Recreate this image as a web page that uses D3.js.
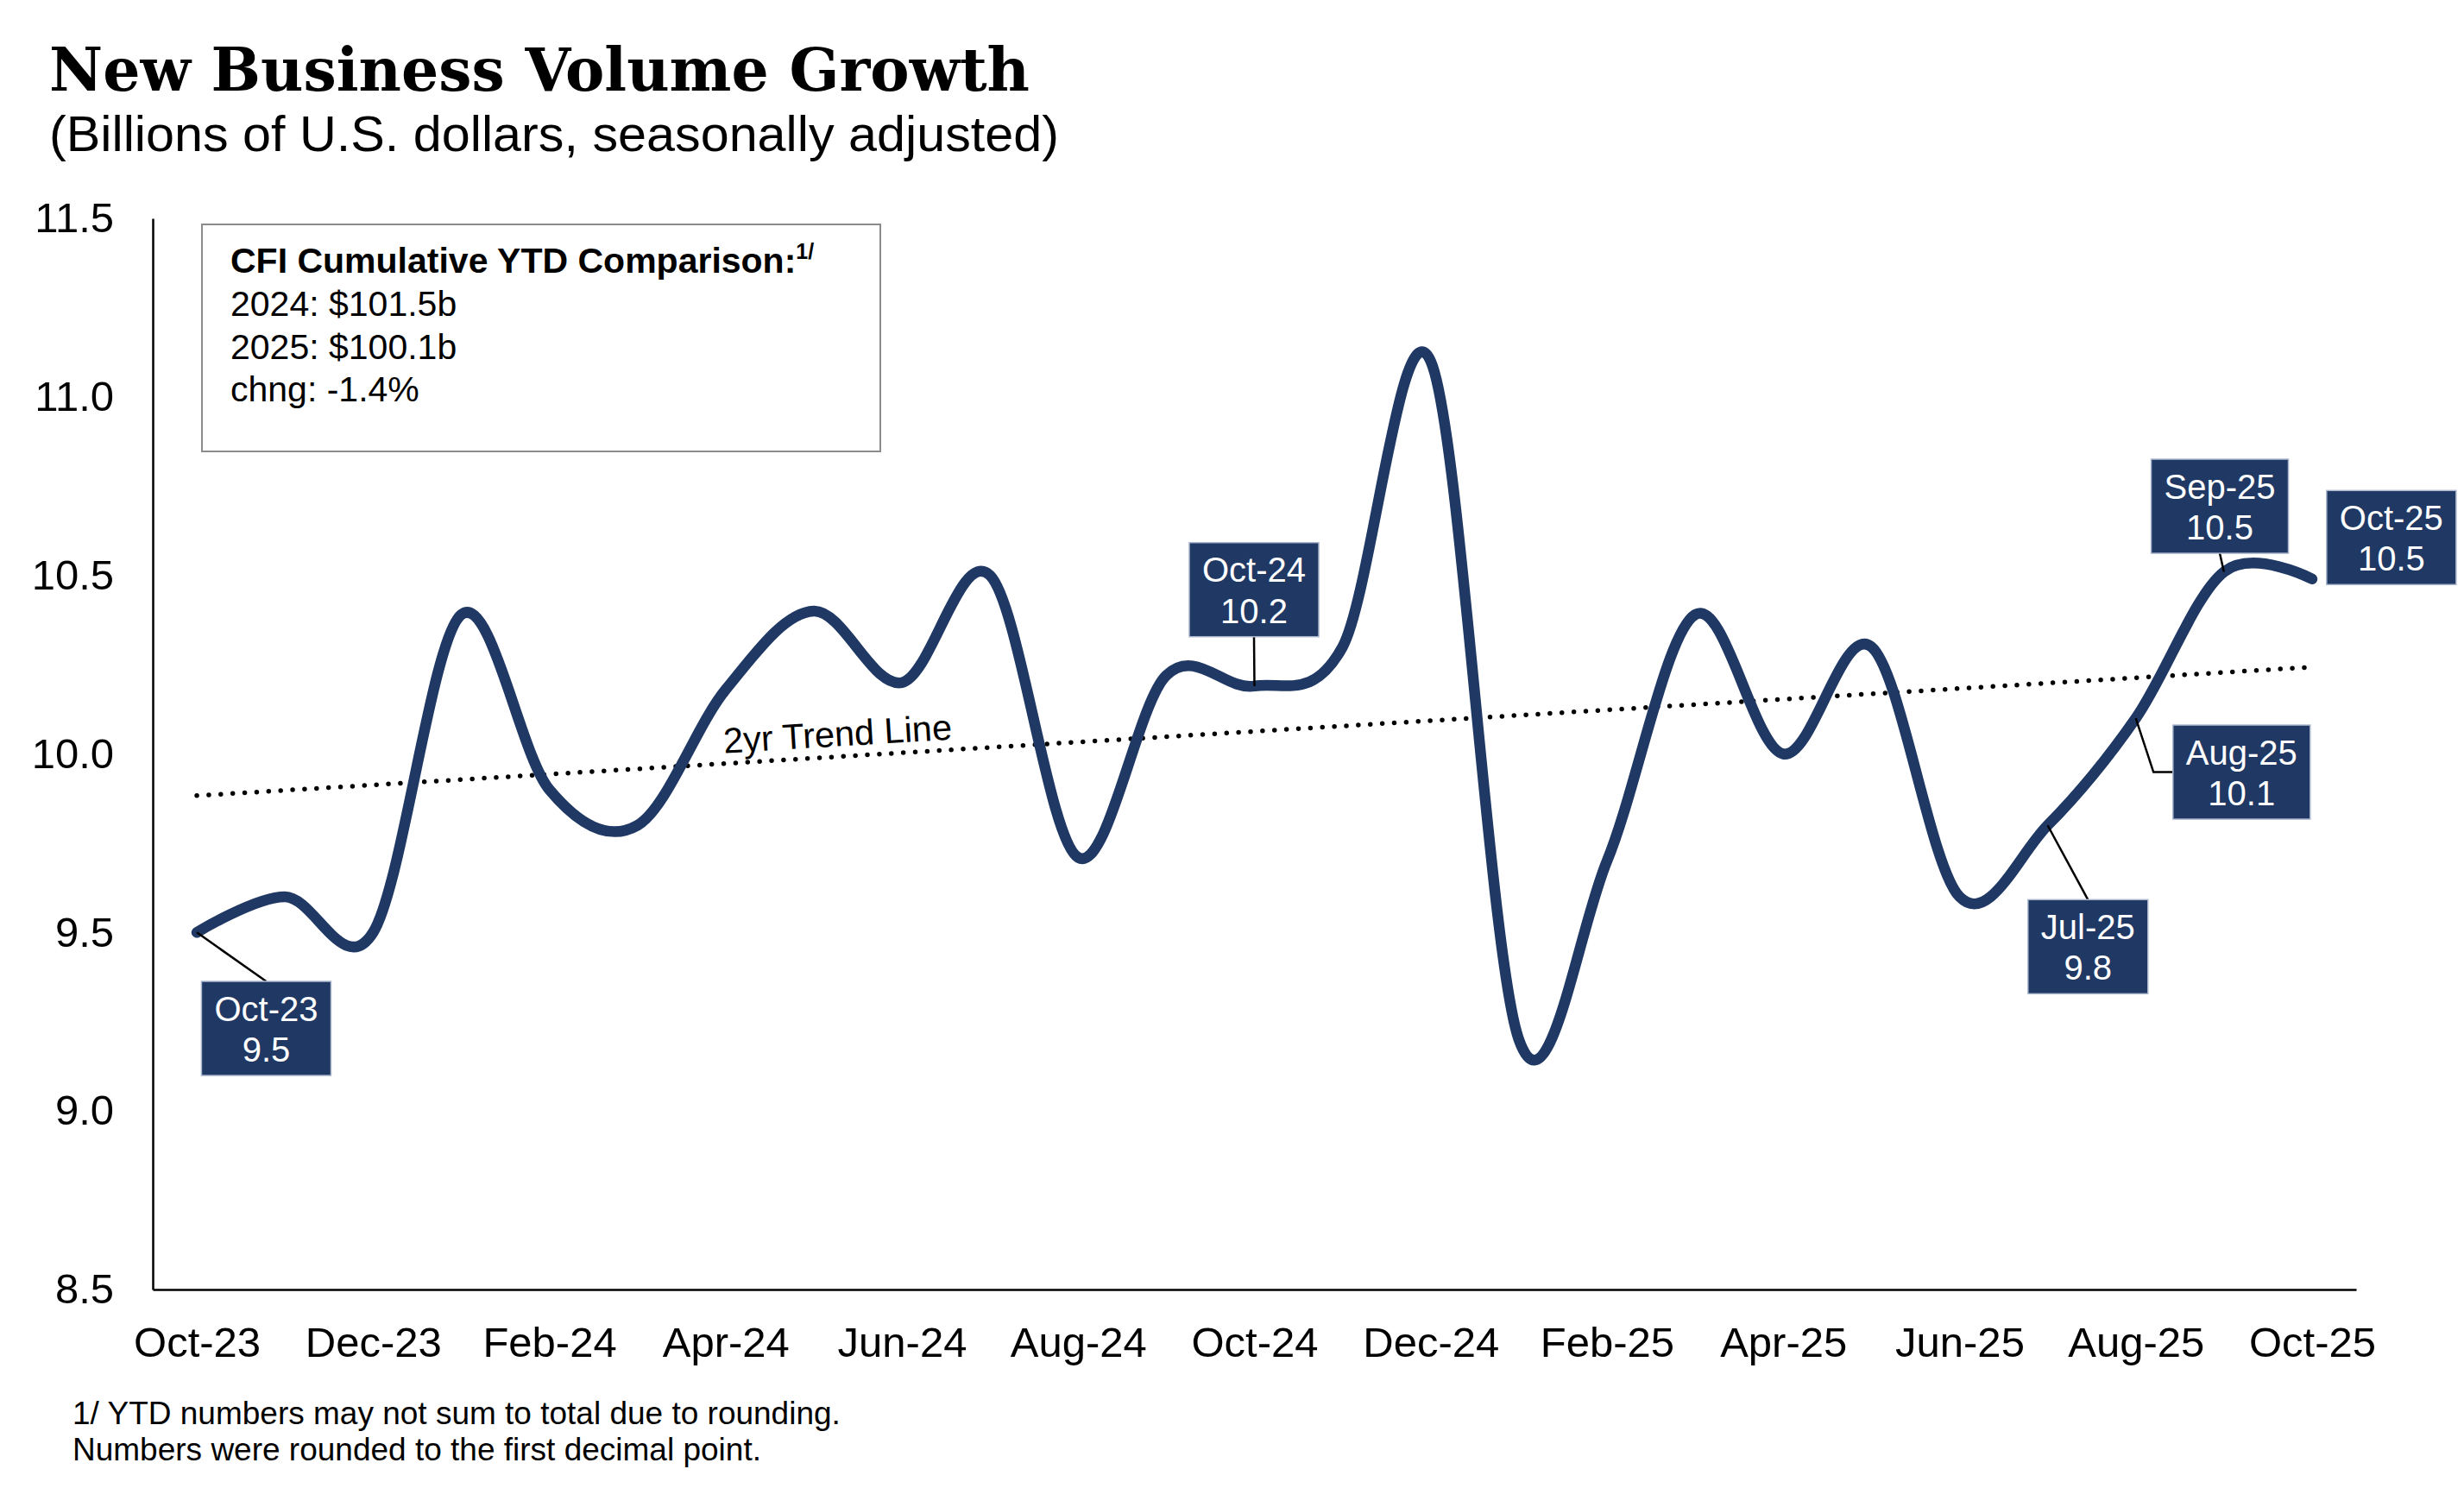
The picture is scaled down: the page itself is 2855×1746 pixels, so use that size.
<!DOCTYPE html>
<html><head><meta charset="utf-8">
<script src="https://cdn.jsdelivr.net/npm/d3@7"></script>
<style>html,body{margin:0;padding:0;background:#fff;} svg{display:block;}</style>
</head><body>
<script>
// ---------------- DATA ----------------
const months = ["Oct-23","Nov-23","Dec-23","Jan-24","Feb-24","Mar-24","Apr-24","May-24","Jun-24","Jul-24","Aug-24","Sep-24",
                "Oct-24","Nov-24","Dec-24","Jan-25","Feb-25","Mar-25","Apr-25","May-25","Jun-25","Jul-25","Aug-25","Sep-25","Oct-25"];
const values = [9.5, 9.6, 9.5, 10.39, 9.9, 9.8, 10.18, 10.4, 10.2, 10.5, 9.71, 10.22,
                10.19, 10.3, 11.1, 9.2, 9.7, 10.39, 10.0, 10.3, 9.6, 9.8, 10.1, 10.51, 10.49];
const xTickLabels = ["Oct-23","Dec-23","Feb-24","Apr-24","Jun-24","Aug-24","Oct-24","Dec-24","Feb-25","Apr-25","Jun-25","Aug-25","Oct-25"];
const yTicks = [8.5, 9.0, 9.5, 10.0, 10.5, 11.0, 11.5];
const labelledMonths = ["Oct-23","Oct-24","Jul-25","Aug-25","Sep-25","Oct-25"];
const labelledTexts  = ["9.5","10.2","9.8","10.1","10.5","10.5"];
const ytdTitle = "CFI Cumulative YTD Comparison:";
const ytdLines = ["2024: $101.5b","2025: $100.1b","chng: -1.4%"];
const trendLabel = "2yr Trend Line";
const titleText = "New Business Volume Growth";
const subtitleText = "(Billions of U.S. dollars, seasonally adjusted)";
const footnotes = ["1/ YTD numbers may not sum to total due to rounding.","Numbers were rounded to the first decimal point."];

// ---------------- LAYOUT ----------------
const W = 2855, H = 1746;
const NAVY = "#1f3864";
const SANS = "'Liberation Sans', Arial, Helvetica, sans-serif";
const SERIF = "'DejaVu Serif', Georgia, serif";

const svg = d3.select("body").append("svg").attr("width", W).attr("height", H);
svg.append("rect").attr("width", W).attr("height", H).attr("fill", "#fff");

const x = d3.scalePoint().domain(months).range([177, 2730]).padding(0.5);
const y = d3.scaleLinear().domain([8.5, 11.5]).range([1494, 253]);

// Title
svg.append("text").attr("x", 57).attr("y", 105)
  .attr("font-family", SERIF).attr("font-weight", "bold").attr("font-size", 70)
  .attr("textLength", 1136).attr("lengthAdjust", "spacingAndGlyphs")
  .attr("fill", "#000").text(titleText);
svg.append("text").attr("x", 57).attr("y", 175)
  .attr("font-family", SANS).attr("font-size", 57)
  .attr("textLength", 1170).attr("lengthAdjust", "spacingAndGlyphs")
  .attr("fill", "#000").text(subtitleText);

// Axes
const gy = svg.append("g").attr("transform", "translate(177,0)")
  .call(d3.axisLeft(y).tickValues(yTicks).tickSize(0).tickSizeOuter(0).tickPadding(45).tickFormat(d3.format(".1f")));
gy.select(".domain").attr("stroke", "#000").attr("stroke-width", 2.5);
gy.selectAll("text").attr("font-family", SANS).attr("font-size", 49).attr("fill", "#000");

const gx = svg.append("g").attr("transform", "translate(0,1494)")
  .call(d3.axisBottom(x).tickValues(xTickLabels).tickSize(0).tickSizeOuter(0).tickPadding(43));
gx.select(".domain").attr("stroke", "#000").attr("stroke-width", 2.5);
gx.selectAll("text").attr("font-family", SANS).attr("font-size", 49).attr("fill", "#000");

// YTD comparison box
svg.append("rect").attr("x", 234).attr("y", 260).attr("width", 786).attr("height", 263)
  .attr("fill", "#fff").attr("stroke", "#8c8c8c").attr("stroke-width", 2);
const hdr = svg.append("text").attr("x", 267).attr("y", 316)
  .attr("font-family", SANS).attr("font-size", 41).attr("font-weight", "bold").attr("fill", "#000");
hdr.append("tspan").text(ytdTitle);
hdr.append("tspan").attr("font-size", 25).attr("dy", -16).text("1/");
ytdLines.forEach((t, i) => {
  svg.append("text").attr("x", 267).attr("y", 366 + i * 49.7)
    .attr("font-family", SANS).attr("font-size", 41).attr("fill", "#000").text(t);
});

// Trend line (least squares on the series)
const n = values.length;
const idx = d3.range(n);
const mx = d3.mean(idx), my = d3.mean(values);
const slope = d3.sum(idx, i => (i - mx) * (values[i] - my)) / d3.sum(idx, i => (i - mx) ** 2);
const icpt = my - slope * mx;
const trendPts = [[months[0], icpt], [months[n - 1], icpt + slope * (n - 1)]];
svg.append("path")
  .attr("d", d3.line().x(d => x(d[0])).y(d => y(d[1]))(trendPts))
  .attr("fill", "none").attr("stroke", "#000").attr("stroke-width", 5.5)
  .attr("stroke-linecap", "round").attr("stroke-dasharray", "0 13.9");
{
  const x0 = x(trendPts[0][0]), y0 = y(trendPts[0][1]);
  const x1 = x(trendPts[1][0]), y1 = y(trendPts[1][1]);
  const ang = Math.atan2(y1 - y0, x1 - x0) * 180 / Math.PI;
  const cx = 972, cy = y0 + (cx - x0) / (x1 - x0) * (y1 - y0);
  svg.append("text").attr("transform", `translate(${cx},${cy}) rotate(${ang})`)
    .attr("x", 0).attr("y", -12).attr("text-anchor", "middle")
    .attr("font-family", SANS).attr("font-size", 41.5).attr("fill", "#000").text(trendLabel);
}

// Main series
svg.append("path")
  .attr("d", d3.line().x((d, i) => x(months[i])).y(d => y(d)).curve(d3.curveCardinal.tension(0))(values))
  .attr("fill", "none").attr("stroke", NAVY).attr("stroke-width", 12.5)
  .attr("stroke-linecap", "round").attr("stroke-linejoin", "round");

// Data labels
const annLayout = {
  "Oct-23": {dx: 80.4,  top: 56.7,   leader: "top"},
  "Oct-24": {dx: -0.5,  top: -166.2, leader: "bottom"},
  "Jul-25": {dx: 46.7,  top: 86.1,   leader: "top"},
  "Aug-25": {dx: 122.6, top: 7.9,    leader: "elbow"},
  "Sep-25": {dx: -4.8,  top: -130.5, leader: "bottom"},
  "Oct-25": {dx: 91.9,  top: -102.5, leader: "none"}
};
const BOX_H = 109;
const gLead = svg.append("g");
const gBox = svg.append("g");
labelledMonths.forEach((m, k) => {
  const i = months.indexOf(m);
  const px = x(m), py = y(values[i]);
  const L = annLayout[m];
  const cx = px + L.dx, top = py + L.top;
  const g = gBox.append("g");
  const rect = g.append("rect");
  const t1 = g.append("text").attr("x", cx).attr("y", top + 45.5).attr("text-anchor", "middle")
    .attr("font-family", SANS).attr("font-size", 40).attr("fill", "#fff").text(m);
  const t2 = g.append("text").attr("x", cx).attr("y", top + 93).attr("text-anchor", "middle")
    .attr("font-family", SANS).attr("font-size", 40).attr("fill", "#fff").text(labelledTexts[k]);
  const w = Math.max(t1.node().getComputedTextLength(), t2.node().getComputedTextLength()) + 30;
  rect.attr("x", cx - w / 2).attr("y", top).attr("width", w).attr("height", BOX_H)
    .attr("fill", NAVY).attr("stroke", "#aab6cc").attr("stroke-width", 1.5);
  let pts = null;
  if (L.leader === "top") pts = [[px, py], [cx, top]];
  else if (L.leader === "bottom") pts = [[cx, top + BOX_H], [px, py]];
  else if (L.leader === "elbow") {
    const left = cx - w / 2, mid = top + BOX_H / 2;
    pts = [[px, py], [left - 22.6, mid], [left, mid]];
  }
  if (pts) gLead.append("path").attr("d", d3.line()(pts))
    .attr("fill", "none").attr("stroke", "#000").attr("stroke-width", 2.5);
});

// Footnotes
footnotes.forEach((t, i) => {
  svg.append("text").attr("x", 84).attr("y", 1650 + i * 42)
    .attr("font-family", SANS).attr("font-size", 37).attr("fill", "#000").text(t);
});
</script>
</body></html>
